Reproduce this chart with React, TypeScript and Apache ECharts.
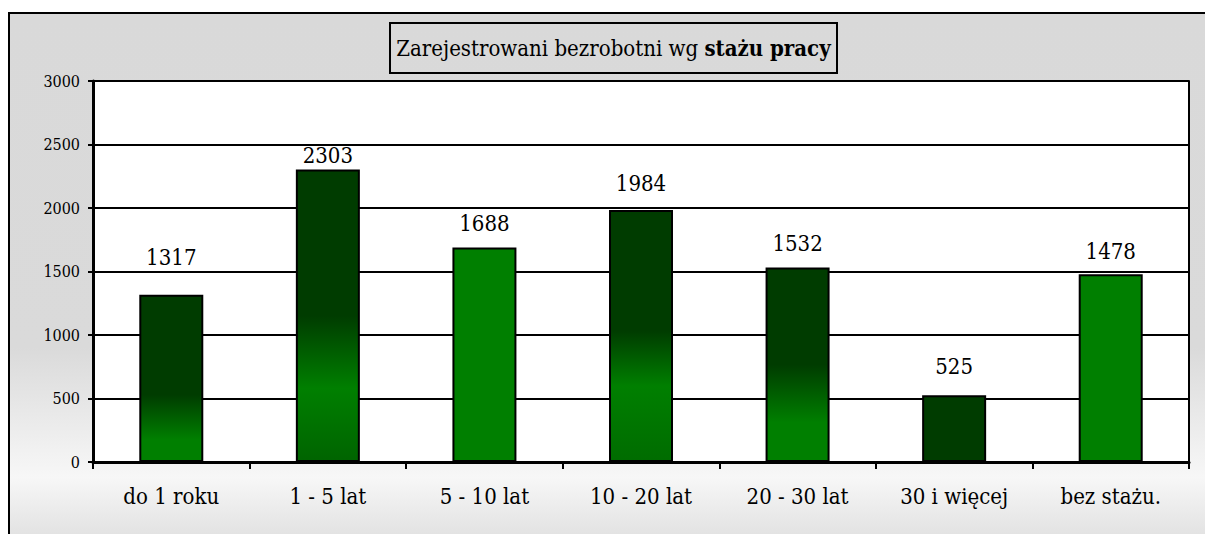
import React, { useEffect, useRef } from "react";
import * as echarts from "echarts";

const categories = ["do 1 roku", "1 - 5 lat", "5 - 10 lat", "10 - 20 lat", "20 - 30 lat", "30 i więcej", "bez stażu."];
const values = [1317, 2303, 1688, 1984, 1532, 525, 1478];
const yTicks = [0, 500, 1000, 1500, 2000, 2500, 3000];
const titleParts = ["Zarejestrowani bezrobotni wg ", "stażu pracy"];

const DARK = "#003c00";
const BRIGHT = "#007f00";
const MIDDARK = "#006400";

const barFills: [number, string][][] = [
  [[0, DARK], [0.6, DARK], [0.87, BRIGHT], [1, BRIGHT]],
  [[0, DARK], [0.5, DARK], [0.75, BRIGHT], [1, MIDDARK]],
  [[0, BRIGHT], [1, BRIGHT]],
  [[0, DARK], [0.48, DARK], [0.7, BRIGHT], [1, "#006c00"]],
  [[0, DARK], [0.5, DARK], [0.8, BRIGHT], [1, BRIGHT]],
  [[0, DARK], [1, DARK]],
  [[0, BRIGHT], [1, BRIGHT]],
];
const labelGaps = [26, 3, 13, 16, 13, 18, 12];

const FONT = "DejaVu Serif Condensed";

export default function App() {
  const ref = useRef<HTMLDivElement>(null);
  useEffect(() => {
    if (!ref.current) return;
    const chart = echarts.init(ref.current, undefined, { renderer: "svg" });
    const data = values.map((v, i) => ({
      value: v,
      itemStyle: {
        color: {
          type: "linear", x: 0, y: 0, x2: 0, y2: 1,
          colorStops: barFills[i].map(([o, c]) => ({ offset: o, color: c })),
        },
      },
      label: { distance: labelGaps[i] },
    }));
    chart.setOption({
      animation: false,
      textStyle: { fontFamily: FONT },
      graphic: [
        {
          type: "rect", z: -100,
          shape: { x: 9, y: 13, width: 1210, height: 540 },
          style: {
            stroke: "#000", lineWidth: 2,
            fill: {
              type: "linear", x: 0, y: 0, x2: 0, y2: 1,
              colorStops: [
                { offset: 0, color: "#d9d9d9" },
                { offset: 0.62, color: "#dadada" },
                { offset: 0.86, color: "#f7f7f7" },
                { offset: 1, color: "#dcdcdc" },
              ],
            },
          },
        },
        {
          type: "rect", z: 10,
          shape: { x: 390, y: 23, width: 447, height: 50 },
          style: { stroke: "#000", lineWidth: 2, fill: "transparent" },
        },
        {
          type: "text", z: 11,
          x: 613.5, y: 48,
          style: {
            text: `{a|${titleParts[0]}}{b|${titleParts[1]}}`,
            align: "center",
            verticalAlign: "middle",
            rich: {
              a: { fontFamily: FONT, fontSize: 22, fill: "#000", fontWeight: "normal" },
              b: { fontFamily: FONT, fontSize: 22, fill: "#000", fontWeight: "bold" },
            },
          },
        },
      ],
      grid: { left: 93, top: 81, right: 16, bottom: 72, show: true, backgroundColor: "#fff", borderWidth: 0 },
      xAxis: {
        type: "category", data: categories,
        axisLine: { show: true, lineStyle: { color: "#000", width: 3 } },
        axisTick: { show: true, length: 7, lineStyle: { color: "#000", width: 2 } },
        axisLabel: { color: "#000", fontSize: 22, fontFamily: FONT, margin: 23 },
      },
      yAxis: [
        {
          type: "value", min: 0, max: yTicks[yTicks.length - 1], interval: yTicks[1] - yTicks[0],
          axisLine: { show: true, lineStyle: { color: "#000", width: 3 } },
          axisTick: { show: true, length: 5, lineStyle: { color: "#000", width: 2 } },
          axisLabel: { color: "#000", fontSize: 16, fontFamily: FONT, margin: 13, formatter: (v: number) => String(v) },
          splitLine: { show: true, lineStyle: { color: "#000", width: 2 } },
        },
        {
          type: "value", min: 0, max: yTicks[yTicks.length - 1], interval: yTicks[1] - yTicks[0],
          position: "right",
          axisLine: { show: true, lineStyle: { color: "#000", width: 2 } },
          axisTick: { show: false }, axisLabel: { show: false }, splitLine: { show: false },
        },
      ],
      series: [
        {
          type: "bar", data, barWidth: 64,
          itemStyle: { borderColor: "#000", borderWidth: 2 },
          label: { show: true, position: "top", color: "#000", fontSize: 22, fontFamily: FONT },
        },
      ],
    });
    return () => chart.dispose();
  }, []);
  return <div ref={ref} style={{ position: "absolute", left: 0, top: 0, width: 1205, height: 534 }} />;
}
